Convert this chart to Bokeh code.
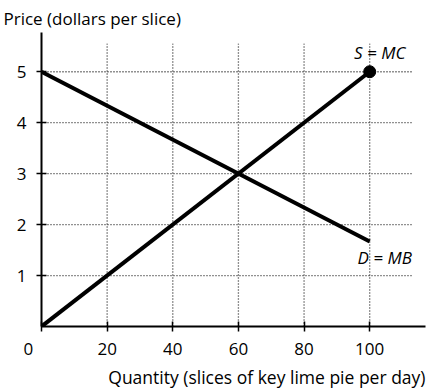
from bokeh.plotting import figure
from bokeh.models import Range1d, Label, FixedTicker, Title
from bokeh.embed import file_html
from bokeh.resources import INLINE

x_ticks = [0, 20, 40, 60, 80, 100]
y_ticks = [1, 2, 3, 4, 5]
supply_q = [0, 100]
supply_p = [0, 5]
demand_q = [0, 100]
demand_p = [5, 1.67]
grid_x = [20, 40, 60, 80, 100]
grid_x_end = 113
grid_y_end = 5.55

FONT = "Open Sans"
FS = "17px"
NB = "\u00a0"

p = figure(width=430, height=388, output_backend="svg", toolbar_location=None,
           x_range=Range1d(0, 117), y_range=Range1d(0, 5.77),
           min_border_left=41, min_border_right=5, min_border_top=32, min_border_bottom=62)
p.outline_line_color = None
p.xgrid.visible = False
p.ygrid.visible = False

p.segment(x0=grid_x, y0=[0]*len(grid_x), x1=grid_x, y1=[grid_y_end]*len(grid_x),
          line_color="#222222", line_width=1.3, line_dash="1 2")
p.segment(x0=[0]*len(y_ticks), y0=y_ticks, x1=[grid_x_end]*len(y_ticks), y1=y_ticks,
          line_color="#222222", line_width=1.3, line_dash="1 2")

p.line(demand_q, demand_p, line_color="black", line_width=4)
p.line(supply_q, supply_p, line_color="black", line_width=4)
p.scatter([supply_q[-1]], [supply_p[-1]], size=12, color="black")

for ax in (p.xaxis[0], p.yaxis[0]):
    ax.axis_line_width = 2
    ax.axis_line_color = "black"
    ax.major_tick_in = 5
    ax.major_tick_out = 5
    ax.major_tick_line_width = 1.5
    ax.minor_tick_line_color = None
    ax.major_label_text_font = FONT
    ax.major_label_text_font_size = FS
    ax.major_label_text_color = "black"

p.xaxis.ticker = FixedTicker(ticks=x_ticks)
p.xaxis.major_label_overrides = {0: "0" + NB * 6}
p.yaxis.ticker = FixedTicker(ticks=y_ticks)
p.xaxis.major_label_standoff = 5
p.yaxis.major_label_standoff = 10

p.add_layout(Title(text="Quantity (slices of key lime pie per day)", align="right", offset=0,
                   text_font=FONT, text_font_size="17.5px", text_font_style="normal",
                   text_color="black", standoff=0), "below")

p.add_layout(Title(text="Price (dollars per slice)", align="left", offset=-38,
                   text_font=FONT, text_font_size=FS, text_font_style="normal",
                   text_color="black", standoff=6), "above")

p.add_layout(Label(x=100, y=5, text="S = MC", text_align="center", x_offset=10, y_offset=8,
                   text_font=FONT, text_font_style="italic", text_font_size=FS, text_color="black"))
p.add_layout(Label(x=100, y=1.67, text="D = MB", text_align="center", text_baseline="middle",
                   x_offset=15, y_offset=-16,
                   text_font=FONT, text_font_style="italic", text_font_size=FS, text_color="black"))

open("out.html", "w").write(file_html(p, INLINE))
